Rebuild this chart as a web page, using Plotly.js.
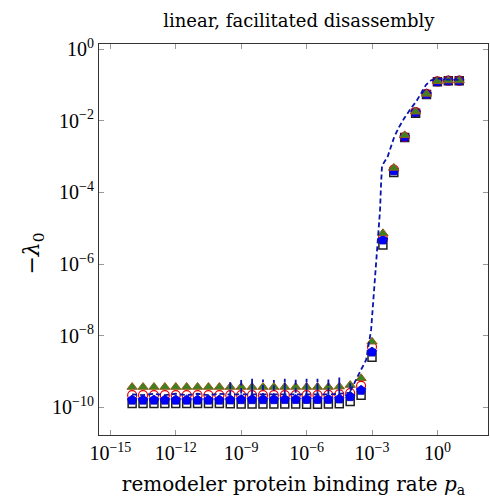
<!DOCTYPE html>
<html>
<head>
<meta charset="utf-8">
<script src="https://cdn.plot.ly/plotly-3.0.1.min.js"></script>
<style>html,body{margin:0;padding:0;background:#fff;}#chart{width:490px;height:498px;}</style>
</head>
<body>
<div id="chart"></div>
<script>
// remodeler protein binding rate p_a (half-decade grid)
const pa = [1e-14, 3.162e-14, 1e-13, 3.162e-13, 1e-12, 3.162e-12, 1e-11, 3.162e-11, 1e-10, 3.162e-10,
            1e-9, 3.162e-9, 1e-8, 3.162e-8, 1e-7, 3.162e-7, 1e-6, 3.162e-6, 1e-5, 3.162e-5,
            1e-4, 3.162e-4, 1e-3, 3.162e-3, 1e-2, 3.162e-2, 1e-1, 3.162e-1, 1, 3.162, 10];

// -lambda_0 for the four marker series
const seriesSquare = [1.29e-10, 1.29e-10, 1.29e-10, 1.29e-10, 1.29e-10, 1.29e-10, 1.29e-10, 1.28e-10, 1.28e-10, 1.27e-10,
                      1.25e-10, 1.25e-10, 1.24e-10, 1.24e-10, 1.24e-10, 1.24e-10, 1.23e-10, 1.23e-10, 1.25e-10, 1.26e-10,
                      1.45e-10, 2.2e-10, 2.5e-9, 3.4e-6, 3.6e-4, 3.4e-3, 1.62e-2, 5.4e-2, 0.122, 0.13, 0.13];
const seriesBlue   = [1.6e-10, 1.6e-10, 1.6e-10, 1.6e-10, 1.6e-10, 1.6e-10, 1.6e-10, 1.6e-10, 1.6e-10, 1.62e-10,
                      1.65e-10, 1.65e-10, 1.65e-10, 1.65e-10, 1.66e-10, 1.66e-10, 1.67e-10, 1.67e-10, 1.68e-10, 1.72e-10,
                      2.0e-10, 3.0e-10, 3.5e-9, 4.7e-6, 4.0e-4, 3.5e-3, 1.7e-2, 5.5e-2, 0.123, 0.13, 0.13];
const seriesCircle = [2.2e-10, 2.2e-10, 2.2e-10, 2.2e-10, 2.2e-10, 2.2e-10, 2.2e-10, 2.2e-10, 2.2e-10, 2.2e-10,
                      2.2e-10, 2.2e-10, 2.2e-10, 2.2e-10, 2.2e-10, 2.2e-10, 2.2e-10, 2.2e-10, 2.25e-10, 2.3e-10,
                      2.5e-10, 4.0e-10, 4.9e-9, 5.2e-6, 4.3e-4, 3.5e-3, 1.75e-2, 5.6e-2, 0.125, 0.131, 0.131];
const seriesTriangle = [3.7e-10, 3.7e-10, 3.7e-10, 3.7e-10, 3.7e-10, 3.7e-10, 3.7e-10, 3.7e-10, 3.7e-10, 3.7e-10,
                        3.7e-10, 3.7e-10, 3.7e-10, 3.7e-10, 3.7e-10, 3.7e-10, 3.7e-10, 3.7e-10, 3.7e-10, 3.8e-10,
                        4.2e-10, 6.5e-10, 6.8e-9, 7.2e-6, 4.8e-4, 3.9e-3, 1.78e-2, 5.6e-2, 0.126, 0.132, 0.132];

// dashed reference curve (with its narrow spikes at the grid points)
const curveX = [1e-14, 3.162e-14, 1e-13, 3.162e-13, 1e-12, 3.162e-12, 1e-11, 3.162e-11, 1e-10,
                3.162e-10, 3.162e-10, 3.162e-10, 1e-9, 1e-9, 1e-9, 3.162e-9, 3.162e-9, 3.162e-9,
                1e-8, 1e-8, 1e-8, 3.162e-8, 3.162e-8, 3.162e-8, 1e-7, 1e-7, 1e-7, 3.162e-7, 3.162e-7, 3.162e-7,
                1e-6, 1e-6, 1e-6, 3.162e-6, 3.162e-6, 3.162e-6, 1e-5, 1e-5, 1e-5, 3.162e-5, 3.162e-5, 3.162e-5,
                1e-4, 1e-4, 1e-4,
                2.63e-4, 5.37e-4, 9.1e-4, 1.07e-3, 1.29e-3, 1.55e-3, 2.0e-3, 2.34e-3, 2.57e-3, 2.88e-3,
                5.25e-3, 7.4e-3, 1.05e-2, 1.78e-2, 3.0e-2, 6.2e-2, 0.105, 0.178, 0.3, 0.5, 0.85, 3.162, 10];
const curveY = [2.3e-10, 2.2e-10, 2.4e-10, 2.2e-10, 2.4e-10, 2.2e-10, 2.4e-10, 2.2e-10, 2.4e-10,
                2.3e-10, 5.2e-10, 2.3e-10, 2.3e-10, 6.3e-10, 2.3e-10, 2.3e-10, 6.3e-10, 2.3e-10,
                2.3e-10, 6.0e-10, 2.3e-10, 2.3e-10, 5.8e-10, 2.3e-10, 2.3e-10, 6.3e-10, 2.3e-10, 2.3e-10, 6.5e-10, 2.3e-10,
                2.3e-10, 6.3e-10, 2.3e-10, 2.3e-10, 6.3e-10, 2.3e-10, 2.3e-10, 6.3e-10, 2.3e-10, 2.4e-10, 6.8e-10, 2.4e-10,
                2.6e-10, 5.1e-10, 2.8e-10,
                9.1e-10, 2.1e-9, 1.45e-8, 5.2e-8, 2.3e-7, 1.29e-6, 5.8e-6, 3.2e-5, 1.45e-4, 5.5e-4,
                1.0e-3, 1.86e-3, 3.55e-3, 6.8e-3, 1.17e-2, 2.24e-2, 3.4e-2, 5.75e-2, 0.1, 0.132, 0.151, 0.14, 0.138];

// tick labels
const xTickVals = [1e-15, 1e-12, 1e-9, 1e-6, 1e-3, 1];
const xTickText = ['10<sup>−15</sup>', '10<sup>−12</sup>', '10<sup>−9</sup>', '10<sup>−6</sup>', '10<sup>−3</sup>', '10<sup>0</sup>'];
const yTickVals = [1e-10, 1e-8, 1e-6, 1e-4, 1e-2, 1];
const yTickText = ['10<sup>−10</sup>', '10<sup>−8</sup>', '10<sup>−6</sup>', '10<sup>−4</sup>', '10<sup>−2</sup>', '10<sup>0</sup>'];

const serif = 'Liberation Serif, DejaVu Serif, serif';
const wideSerif = 'DejaVu Serif, Liberation Serif, serif';

const traces = [
  {x: pa, y: seriesSquare, type: 'scatter', mode: 'markers', showlegend: false,
   marker: {symbol: 'square', size: 8, color: '#ffffff', line: {color: 'rgb(30,30,30)', width: 1.5}}},
  {x: pa, y: seriesCircle, type: 'scatter', mode: 'markers', showlegend: false,
   marker: {symbol: 'circle-open', size: 9, color: 'rgb(230,0,0)', line: {color: 'rgb(230,0,0)', width: 1.2}}},
  {x: pa, y: seriesBlue, type: 'scatter', mode: 'markers', showlegend: false,
   marker: {symbol: 'pentagon', size: 10, color: 'rgb(0,0,255)', line: {color: 'rgb(0,0,200)', width: 0.8}}},
  {x: pa, y: seriesTriangle, type: 'scatter', mode: 'markers', showlegend: false,
   marker: {symbol: 'triangle-up', size: 9, color: 'rgb(60,130,30)', line: {color: 'rgb(150,90,30)', width: 1}}},
  {x: curveX, y: curveY, type: 'scatter', mode: 'lines', showlegend: false,
   line: {color: 'rgb(10,20,170)', width: 1.8, dash: '5px,3px'}}
];

const axisCommon = {
  type: 'log', showgrid: false, zeroline: false, showline: true, linecolor: '#333', linewidth: 1,
  mirror: 'allticks', ticks: 'inside', ticklen: 5, tickcolor: '#999', tickwidth: 1,
  tickmode: 'array', tickfont: {family: serif, size: 20, color: '#000'}
};

const layout = {
  width: 490, height: 498,
  margin: {l: 99, r: 2, t: 44, b: 63},
  paper_bgcolor: '#fff', plot_bgcolor: '#fff',
  title: {text: 'linear, facilitated disassembly', font: {family: wideSerif, size: 18, color: '#000'},
          x: 0.61, xanchor: 'center', xref: 'container', y: 0.958, yanchor: 'middle'},
  xaxis: Object.assign({}, axisCommon, {range: [-15.52, 2.32], tickvals: xTickVals, ticktext: xTickText,
    title: {text: 'remodeler protein binding rate <i>p</i><sub>a</sub>', font: {family: wideSerif, size: 20, color: '#000'}, standoff: 14}}),
  yaxis: Object.assign({}, axisCommon, {range: [-10.77, 0.14], tickvals: yTickVals, ticktext: yTickText,
    title: {text: '−<i>λ</i><sub>0</sub>&nbsp;&nbsp;&nbsp;&nbsp;', font: {family: wideSerif, size: 22, color: '#000'}, standoff: 6}})
};

Plotly.newPlot('chart', traces, layout, {displayModeBar: false, staticPlot: true});
</script>
</body>
</html>
